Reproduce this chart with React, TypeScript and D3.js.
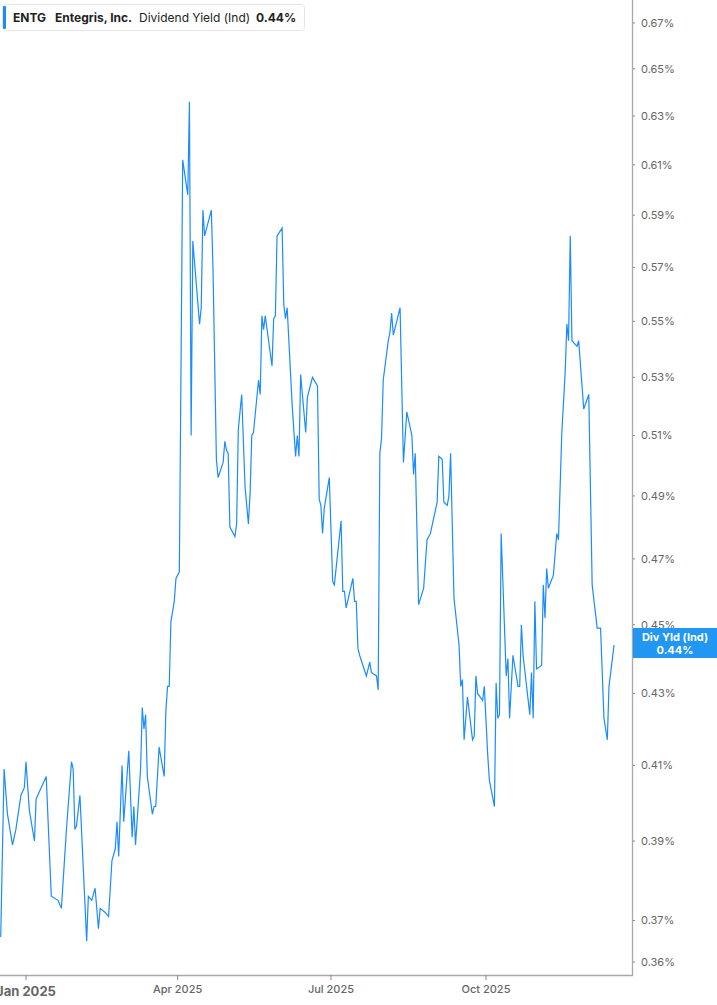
import * as d3 from 'd3'

const dates = [
  '2024-12-17', '2024-12-19', '2024-12-21', '2024-12-24', '2024-12-26', '2024-12-29', '2024-12-31',
  '2025-01-01', '2025-01-03', '2025-01-06', '2025-01-07', '2025-01-10', '2025-01-13', '2025-01-16',
  '2025-01-20', '2025-01-22', '2025-01-25', '2025-01-28', '2025-01-29', '2025-01-30', '2025-01-31',
  '2025-02-02', '2025-02-06', '2025-02-07', '2025-02-09', '2025-02-11', '2025-02-13', '2025-02-14',
  '2025-02-17', '2025-02-19', '2025-02-21', '2025-02-23', '2025-02-24', '2025-02-25', '2025-02-27',
  '2025-02-28', '2025-03-03', '2025-03-05', '2025-03-06', '2025-03-07', '2025-03-10', '2025-03-11',
  '2025-03-12', '2025-03-13', '2025-03-14', '2025-03-17', '2025-03-18', '2025-03-19', '2025-03-21',
  '2025-03-24', '2025-03-25', '2025-03-26', '2025-03-27', '2025-03-28', '2025-03-30', '2025-03-31',
  '2025-04-02', '2025-04-04', '2025-04-07', '2025-04-08', '2025-04-09', '2025-04-10', '2025-04-14',
  '2025-04-15', '2025-04-16', '2025-04-17', '2025-04-21', '2025-04-22', '2025-04-24', '2025-04-25',
  '2025-04-28', '2025-04-29', '2025-04-30', '2025-05-01', '2025-05-02', '2025-05-05', '2025-05-06',
  '2025-05-07', '2025-05-09', '2025-05-11', '2025-05-13', '2025-05-14', '2025-05-15', '2025-05-16',
  '2025-05-19', '2025-05-20', '2025-05-21', '2025-05-22', '2025-05-23', '2025-05-27', '2025-05-28',
  '2025-05-29', '2025-05-30', '2025-06-02', '2025-06-03', '2025-06-04', '2025-06-05', '2025-06-08',
  '2025-06-10', '2025-06-11', '2025-06-12', '2025-06-13', '2025-06-16', '2025-06-17', '2025-06-20',
  '2025-06-23', '2025-06-24', '2025-06-25', '2025-06-26', '2025-06-27', '2025-06-30', '2025-07-02',
  '2025-07-03', '2025-07-07', '2025-07-08', '2025-07-09', '2025-07-10', '2025-07-14', '2025-07-15',
  '2025-07-16', '2025-07-17', '2025-07-18', '2025-07-22', '2025-07-24', '2025-07-25', '2025-07-28',
  '2025-07-29', '2025-07-30', '2025-07-31', '2025-08-01', '2025-08-04', '2025-08-05', '2025-08-06',
  '2025-08-07', '2025-08-11', '2025-08-13', '2025-08-15', '2025-08-18', '2025-08-19', '2025-08-20',
  '2025-08-22', '2025-08-25', '2025-08-27', '2025-08-29', '2025-09-02', '2025-09-03', '2025-09-05',
  '2025-09-06', '2025-09-08', '2025-09-09', '2025-09-10', '2025-09-12', '2025-09-15', '2025-09-16',
  '2025-09-17', '2025-09-18', '2025-09-20', '2025-09-23', '2025-09-24', '2025-09-25', '2025-09-26',
  '2025-09-29', '2025-09-30', '2025-10-02', '2025-10-03', '2025-10-06', '2025-10-07', '2025-10-08',
  '2025-10-09', '2025-10-10', '2025-10-13', '2025-10-14', '2025-10-15', '2025-10-17', '2025-10-20',
  '2025-10-21', '2025-10-22', '2025-10-23', '2025-10-27', '2025-10-28', '2025-10-29', '2025-10-30',
  '2025-10-31', '2025-11-03', '2025-11-04', '2025-11-05', '2025-11-06', '2025-11-07', '2025-11-10',
  '2025-11-12', '2025-11-13', '2025-11-15', '2025-11-17', '2025-11-18', '2025-11-19', '2025-11-20',
  '2025-11-21', '2025-11-24', '2025-11-25', '2025-11-28', '2025-12-01', '2025-12-03', '2025-12-06',
  '2025-12-08', '2025-12-10', '2025-12-12', '2025-12-13', '2025-12-16',
]

// dividend yield, %
const yields = [
  0.366, 0.409, 0.397, 0.389, 0.393, 0.402, 0.404,
  0.411, 0.398, 0.390, 0.401, 0.404, 0.407, 0.376,
  0.375, 0.373, 0.393, 0.411, 0.409, 0.393, 0.394,
  0.402, 0.365, 0.376, 0.375, 0.378, 0.368, 0.373,
  0.372, 0.371, 0.385, 0.388, 0.395, 0.386, 0.410,
  0.395, 0.414, 0.391, 0.399, 0.389, 0.409, 0.426,
  0.420, 0.424, 0.407, 0.397, 0.399, 0.399, 0.415,
  0.407, 0.425, 0.432, 0.432, 0.451, 0.457, 0.464,
  0.466, 0.612, 0.598, 0.636, 0.510, 0.580, 0.549,
  0.555, 0.592, 0.582, 0.592, 0.569, 0.502, 0.496,
  0.501, 0.508, 0.505, 0.504, 0.480, 0.477, 0.481,
  0.512, 0.524, 0.493, 0.481, 0.491, 0.510, 0.511,
  0.529, 0.524, 0.552, 0.547, 0.552, 0.534, 0.551,
  0.552, 0.582, 0.585, 0.556, 0.551, 0.555, 0.520,
  0.503, 0.510, 0.503, 0.531, 0.511, 0.523, 0.530,
  0.527, 0.489, 0.487, 0.478, 0.486, 0.496, 0.463,
  0.462, 0.482, 0.460, 0.460, 0.455, 0.464, 0.457,
  0.457, 0.443, 0.441, 0.435, 0.439, 0.436, 0.435,
  0.431, 0.504, 0.509, 0.529, 0.543, 0.546, 0.553,
  0.545, 0.555, 0.501, 0.518, 0.510, 0.497, 0.504,
  0.456, 0.461, 0.476, 0.478, 0.488, 0.503, 0.502,
  0.488, 0.487, 0.490, 0.504, 0.458, 0.444, 0.432,
  0.434, 0.417, 0.429, 0.417, 0.418, 0.435, 0.430,
  0.428, 0.432, 0.413, 0.406, 0.399, 0.433, 0.423,
  0.424, 0.478, 0.435, 0.440, 0.423, 0.441, 0.432,
  0.432, 0.450, 0.441, 0.424, 0.436, 0.423, 0.457,
  0.437, 0.438, 0.462, 0.452, 0.467, 0.461, 0.465,
  0.478, 0.476, 0.511, 0.532, 0.549, 0.543, 0.582,
  0.543, 0.541, 0.543, 0.519, 0.524, 0.462, 0.449,
  0.449, 0.423, 0.417, 0.432, 0.444,
]

const yTicks = [0.36, 0.37, 0.39, 0.41, 0.43, 0.45, 0.47, 0.49, 0.51, 0.53, 0.55, 0.57, 0.59, 0.61, 0.63, 0.65, 0.67]
const xTicks = ['2025-01-01', '2025-04-01', '2025-07-01', '2025-10-01']

const symbol = 'ENTG'
const company = 'Entegris, Inc.'
const metric = 'Dividend Yield (Ind)'
const lastLabel = 'Div Yld (Ind)'

const WIDTH = 717
const HEIGHT = 1005
const PLOT_RIGHT = 632
const PLOT_BOTTOM = 975
const BLUE = '#1a8cff'
const FONT = 'Inter, "Noto Sans", Roboto, sans-serif'

export default function App() {
  const parse = d3.utcParse('%Y-%m-%d')
  const points = dates.map((d, i) => ({ date: parse(d) as Date, value: yields[i] }))

  const x = d3.scaleUtc()
    .domain([parse('2025-01-01') as Date, parse('2025-10-01') as Date])
    .range([26, 486])

  // log scale: spacing of the yield ticks widens toward the bottom
  const y = d3.scaleLog()
    .domain([0.36, 0.67])
    .range([962, 23])

  const line = d3.line<{ date: Date; value: number }>()
    .x(d => x(d.date))
    .y(d => y(d.value))

  const last = points[points.length - 1]
  const lastY = y(last.value)
  const fmt = (v: number) => `${v.toFixed(2)}%`

  return (
    <svg
      width={WIDTH}
      height={HEIGHT}
      style={{ position: 'absolute', left: 0, top: 0, background: '#fff', fontFamily: FONT }}
    >
      <defs>
        <clipPath id="plot">
          <rect x={0} y={0} width={PLOT_RIGHT} height={PLOT_BOTTOM} />
        </clipPath>
      </defs>

      <path d={line(points) ?? ''} fill="none" stroke={BLUE} strokeWidth={1.2} clipPath="url(#plot)" />

      {/* right axis */}
      <line x1={PLOT_RIGHT + 0.5} x2={PLOT_RIGHT + 0.5} y1={0} y2={PLOT_BOTTOM + 1} stroke="#a8a8a8" strokeWidth={1.3} />
      {yTicks.map(t => (
        <g key={t} transform={`translate(0, ${y(t)})`}>
          <line x1={PLOT_RIGHT + 1} x2={PLOT_RIGHT + 3} stroke="#888" strokeWidth={1} />
          <text x={641} dy="0.35em" fontSize={11} fill="#666">{fmt(t)}</text>
        </g>
      ))}

      {/* bottom axis */}
      <line x1={0} x2={PLOT_RIGHT + 1} y1={PLOT_BOTTOM + 0.5} y2={PLOT_BOTTOM + 0.5} stroke="#a8a8a8" strokeWidth={1.3} />
      {xTicks.map((t, i) => {
        const d = parse(t) as Date
        const px = x(d)
        return (
          <g key={t}>
            <line x1={px} x2={px} y1={PLOT_BOTTOM} y2={PLOT_BOTTOM + 5} stroke="#888" strokeWidth={1} />
            <text
              x={px}
              y={i === 0 ? 996 : 993}
              textAnchor="middle"
              fontSize={i === 0 ? 13 : 11}
              fontWeight={i === 0 ? 700 : 500}
              fill="#666"
            >
              {d3.utcFormat('%b %Y')(d)}
            </text>
          </g>
        )
      })}

      {/* last value tag */}
      <rect x={PLOT_RIGHT + 1} y={lastY - 17} width={WIDTH - PLOT_RIGHT - 1} height={30} fill="#2196f3" />
      <text x={675} y={lastY - 4} textAnchor="middle" fontSize={11} fontWeight={700} fill="#fff">{lastLabel}</text>
      <text x={675} y={lastY + 9} textAnchor="middle" fontSize={11} fontWeight={700} fill="#fff">{fmt(last.value)}</text>

      {/* legend */}
      <rect x={2.5} y={4.5} width={302} height={26} rx={3} fill="#fff" stroke="#e6e6e6" />
      <rect x={3} y={6} width={3} height={23} rx={1} fill={BLUE} />
      <text y={22} fontSize={12} fill="#222">
        <tspan x={13} fontWeight={700}>{symbol}</tspan>
        <tspan x={55} fontWeight={700}>{company}</tspan>
        <tspan x={139} fontWeight={400}>{metric}</tspan>
        <tspan x={256} fontWeight={700}>{fmt(last.value)}</tspan>
      </text>
    </svg>
  )
}
